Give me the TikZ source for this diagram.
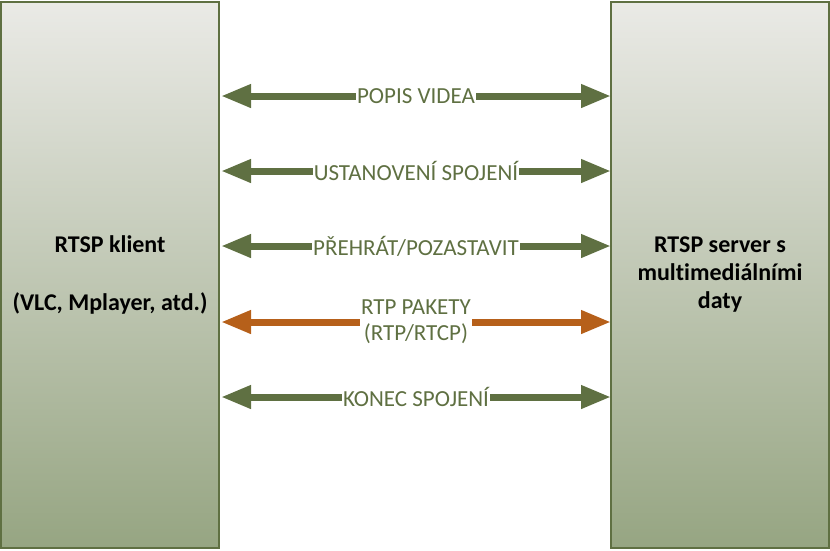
\documentclass[tikz,border=0pt]{standalone}
\usepackage{fontspec}
\setmainfont[Ligatures=NoCommon]{Carlito}
\usetikzlibrary{arrows.meta}
\definecolor{grn}{RGB}{95,112,66}
\definecolor{org}{RGB}{182,96,26}
\definecolor{boxtop}{RGB}{234,234,230}
\definecolor{boxbot}{RGB}{150,165,130}
\tikzset{
 sidebox/.style={draw=grn,line width=1.5pt,top color=boxtop,bottom color=boxbot,minimum width=218pt,minimum height=546pt,align=center,font=\fontsize{24}{28}\selectfont\bfseries},
 msg/.style={line width=7pt,{Triangle[length=30pt,width=22pt]}-{Triangle[length=30pt,width=22pt]}},
 lbl/.style={fill=white,inner sep=1pt,align=center,font=\fontsize{23}{26}\selectfont},
}
\begin{document}
\begin{tikzpicture}[x=1pt,y=-1pt]
\useasboundingbox (0,0) rectangle (830,550);
\node[sidebox] (L) at (110,275) {RTSP klient\\[30pt](VLC, Mplayer, atd.)};
\node[sidebox] (R) at (720,275) {RTSP server s\\multimediálními\\daty};
\foreach \y/\t/\n in {96/{POPIS VIDEA}/a,171/{USTANOVENÍ SPOJENÍ}/b,246/{PŘEHRÁT/POZASTAVIT}/c,397/{KONEC SPOJENÍ}/e}{
 \coordinate (l\n) at (221,\y); \coordinate (r\n) at (611,\y);
 \draw[msg,grn] (l\n) -- node[lbl,text=grn]{\t} (r\n);
}
\coordinate (ld) at (221,322); \coordinate (rd) at (611,322);
\draw[msg,org] (ld) -- node[lbl,text=grn]{RTP PAKETY\\(RTP/RTCP)} (rd);
\end{tikzpicture}
\end{document}
